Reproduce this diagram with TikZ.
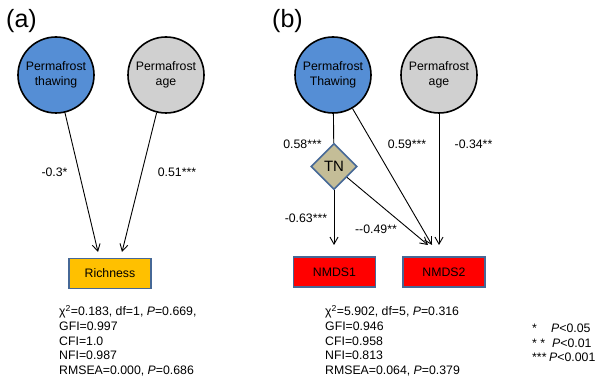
\documentclass[tikz,border=0pt]{standalone}
\usepackage{fontspec}
\setmainfont{Liberation Sans}
\usepackage{tikz}
\usetikzlibrary{arrows.meta,shapes.geometric}
\definecolor{thawblue}{RGB}{85,142,213}
\definecolor{agegrey}{RGB}{208,208,208}
\definecolor{richorange}{RGB}{255,192,0}
\definecolor{tntan}{RGB}{196,189,151}
\definecolor{boxedge}{RGB}{70,104,150}

\begin{document}
\begin{tikzpicture}[x=1pt, y=-1pt,
    every node/.style={font=\fontsize{12.3}{14.8}\selectfont, inner sep=0pt},
    factor/.style={draw, circle, line width=1.6pt, minimum size=76pt, align=center},
    outcome/.style={draw=boxedge, line width=1.6pt, minimum width=82pt, minimum height=30pt},
    panel/.style={font=\fontsize{25}{30}\selectfont},
    effect/.style={-{Straight Barb[length=7pt,width=8pt]}, line width=0.9pt}]
            \useasboundingbox (0,0) rectangle (600,382);

            % (a)
            \node[panel] (labA) at (21.5,21) {(a)};
            \node[factor, fill=thawblue] (thawA) at (56,75) {Permafrost\\thawing};
            \node[factor, fill=agegrey] (ageA) at (166,75) {Permafrost\\age};
            \node[outcome, fill=richorange] (rich) at (110,273.5) {Richness};

            \coordinate (richIn1) at (98,252);
            \coordinate (richIn2) at (122,252);
            \draw[effect] (thawA) -- (richIn1);
            \draw[effect] (ageA) -- (richIn2);

            \node (cA1) at (54.5,172.5) {-0.3*};
            \node (cA2) at (177,172.5) {0.51***};

            \node[anchor=north west, align=left] (fitA) at (59,305)
                {χ\textsuperscript{2}=0.183, df=1, \textit{P}=0.669,\\GFI=0.997\\CFI=1.0\\NFI=0.987\\RMSEA=0.000, \textit{P}=0.686};

            % (b)
            \node[panel] (labB) at (287.5,21) {(b)};
            \node[factor, fill=thawblue] (thawB) at (333,75) {Permafrost\\Thawing};
            \node[factor, fill=agegrey] (ageB) at (439,75) {Permafrost\\age};
            \node[draw=boxedge, fill=tntan, line width=1.6pt, diamond, minimum size=46pt,
                font=\fontsize{15}{18}\selectfont] (tn) at (334,166.5) {TN};
            \node[outcome, fill=red] (nmds1) at (334.5,272) {NMDS1};
            \node[outcome, fill=red] (nmds2) at (444,272) {NMDS2};

            \coordinate (n1In) at (334,245);
            \coordinate (n2In1) at (428,245);
            \coordinate (n2In2) at (432,245);
            \coordinate (n2In3) at (439,245);
            \draw[line width=0.9pt] (thawB) -- (tn);
            \draw[effect] (tn) -- (n1In);
            \draw[effect] (tn) -- (n2In1);
            \draw[effect] (thawB) -- (n2In2);
            \draw[effect] (ageB) -- (n2In3);

            \node (cB1) at (302.5,144) {0.58***};
            \node (cB2) at (407,144) {0.59***};
            \node (cB3) at (473.5,144) {-0.34**};
            \node (cB4) at (306,218) {-0.63***};
            \node (cB5) at (376,229) {-{}-0.49**};

            \node[anchor=north west, align=left] (fitB) at (325,305)
                {χ\textsuperscript{2}=5.902, df=5, \textit{P}=0.316\\GFI=0.946\\CFI=0.958\\NFI=0.813\\RMSEA=0.064, \textit{P}=0.379};

            \node[anchor=base west] (star1) at (532,332) {*};
            \node[anchor=base west] (sig1) at (551,332) {\textit{P}<0.05};
            \node[anchor=base west] (star2) at (532,347) {* *};
            \node[anchor=base west] (sig2) at (552,347) {\textit{P}<0.01};
            \node[anchor=base west] (star3) at (532,361.5) {***};
            \node[anchor=base west] (sig3) at (549,361.5) {\textit{P}<0.001};
      \end{tikzpicture}
\end{document}
